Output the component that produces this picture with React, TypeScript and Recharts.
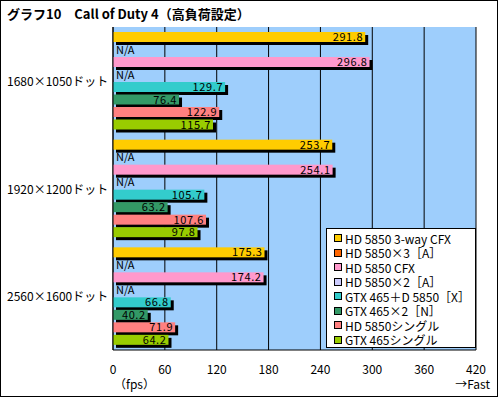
import React from "react";
import {
  BarChart,
  Bar,
  XAxis,
  YAxis,
  CartesianGrid,
  LabelList,
} from "recharts";

const categories = ["1680×1050ドット", "1920×1200ドット", "2560×1600ドット"];
const seriesNames = [
  "HD 5850 3-way CFX",
  "HD 5850×3［A］",
  "HD 5850 CFX",
  "HD 5850×2［A］",
  "GTX 465＋D 5850［X］",
  "GTX 465×2［N］",
  "HD 5850シングル",
  "GTX 465シングル",
];
const colors = [
  "#FFCC00",
  "#FF6600",
  "#FF99CC",
  "#CCCCFF",
  "#33CCCC",
  "#339966",
  "#FF8080",
  "#99CC00",
];
const hd5850Way3 = [291.8, 253.7, 175.3];
const hd5850x3 = [null, null, null];
const hd5850Cfx = [296.8, 254.1, 174.2];
const hd5850x2 = [null, null, null];
const gtx465D5850 = [129.7, 105.7, 66.8];
const gtx465x2 = [76.4, 63.2, 40.2];
const hd5850Single = [122.9, 107.6, 71.9];
const gtx465Single = [115.7, 97.8, 64.2];
const xTicks = [0, 60, 120, 180, 240, 300, 360, 420];

const seriesValues = [
  hd5850Way3,
  hd5850x3,
  hd5850Cfx,
  hd5850x2,
  gtx465D5850,
  gtx465x2,
  hd5850Single,
  gtx465Single,
];

const data = categories.map((name, i) => {
  const row: Record<string, any> = { name };
  seriesValues.forEach((vals, s) => {
    row["s" + s] = vals[i];
  });
  return row;
});

const FONT = '"Noto Sans CJK JP", "Noto Sans", sans-serif';

// bar with a black drop shadow; missing (N/A) entries get a text instead
const ShadowBar = (props: any) => {
  const { x, y, width, height, fill, na } = props;
  if (x == null || y == null || isNaN(x) || isNaN(y)) return null;
  if (na) {
    return (
      <text
        x={x + 3}
        y={y + height / 2 + 4}
        fontSize={11}
        fontFamily={FONT}
        fill="#000"
      >
        N/A
      </text>
    );
  }
  if (!(width > 0)) return null;
  return (
    <g>
      <rect x={x + 3} y={y + 3} width={width} height={height} fill="#000" />
      <rect x={x} y={y} width={width} height={height} fill={fill} />
    </g>
  );
};

const ValueLabel = (props: any) => {
  const { x, y, width, height, value } = props;
  if (typeof value !== "number" || !(value > 0)) return null;
  return (
    <text
      x={x + width - 2}
      y={y + height / 2 + 4}
      fontSize={11}
      letterSpacing={0.6}
      fontFamily={FONT}
      fill="#000"
      textAnchor="end"
    >
      {value.toFixed(1)}
    </text>
  );
};

const XTick = (props: any) => {
  const { x, y, payload } = props;
  return (
    <g>
      <text
        x={x}
        y={y + 16}
        fontSize={12}
        fontFamily={FONT}
        fill="#000"
        textAnchor="middle"
      >
        {payload.value}
      </text>
      {payload.value === 0 && (
        <text x={x + 1} y={y + 31} fontSize={12} fontFamily={FONT} fill="#000">
          （fps）
        </text>
      )}
      {payload.value === 420 && (
        <text
          x={x + 14}
          y={y + 31}
          fontSize={12}
          fontFamily={FONT}
          fill="#000"
          textAnchor="end"
        >
          →Fast
        </text>
      )}
    </g>
  );
};

const YTick = (props: any) => {
  const { y, payload } = props;
  return (
    <text x={7} y={y + 5} fontSize={12} fontFamily={FONT} fill="#000">
      {payload.value}
    </text>
  );
};

export default function App() {
  return (
    <div
      style={{
        position: "absolute",
        left: 0,
        top: 0,
        width: 500,
        height: 397,
        background: "#fff",
        fontFamily: FONT,
      }}
    >
      <BarChart
        width={500}
        height={397}
        data={data}
        layout="vertical"
        margin={{ top: 27, right: 24, bottom: 0, left: 0 }}
        barCategoryGap={5}
        barGap={2.5}
      >
        <CartesianGrid
          fill="#9ECEFC"
          fillOpacity={1}
          stroke="#000"
          horizontal={false}
        />
        <XAxis
          type="number"
          domain={[0, 420]}
          ticks={xTicks}
          axisLine={{ stroke: "#000" }}
          tickLine={false}
          tick={<XTick />}
          height={47}
          interval={0}
        />
        <XAxis
          xAxisId="top"
          orientation="top"
          type="number"
          domain={[0, 420]}
          ticks={xTicks}
          axisLine={{ stroke: "#000" }}
          tickLine={false}
          tick={false}
          height={0}
        />
        <YAxis
          type="category"
          dataKey="name"
          width={113}
          axisLine={{ stroke: "#000" }}
          tickLine={false}
          tick={<YTick />}
        />
        {seriesNames.map((name, s) => {
          const key = "s" + s;
          return (
            <Bar
              key={name}
              dataKey={(row: any) => row[key] ?? 0}
              name={name}
              fill={colors[s]}
              shape={(p: any) => (
                <ShadowBar {...p} na={p.payload && p.payload[key] == null} />
              )}
              isAnimationActive={false}
            >
              <LabelList content={<ValueLabel />} />
            </Bar>
          );
        })}
      </BarChart>
      <div
        style={{
          position: "absolute",
          left: 7,
          top: 5,
          fontSize: 13,
          fontWeight: "bold",
          whiteSpace: "pre",
          lineHeight: "18px",
        }}
      >
        {"グラフ10　Call of Duty 4（高負荷設定）"}
      </div>
      <div
        style={{
          position: "absolute",
          left: 326,
          top: 228,
          width: 150,
          height: 120,
          boxSizing: "border-box",
          border: "1px solid #000",
          background: "#fff",
          paddingTop: 2,
        }}
      >
        {seriesNames.map((name, s) => (
          <div
            key={name}
            style={{
              display: "flex",
              alignItems: "center",
              height: 14.5,
              fontSize: 12,
              whiteSpace: "nowrap",
            }}
          >
            <span
              style={{
                display: "inline-block",
                width: 6,
                height: 6,
                border: "1px solid #000",
                background: colors[s],
                marginLeft: 7,
                marginRight: 3,
              }}
            />
            {name}
          </div>
        ))}
      </div>
      <div
        style={{
          position: "absolute",
          left: 0,
          top: 0,
          width: 498,
          height: 397,
          boxSizing: "border-box",
          border: "1px solid #000",
          pointerEvents: "none",
        }}
      />
    </div>
  );
}
